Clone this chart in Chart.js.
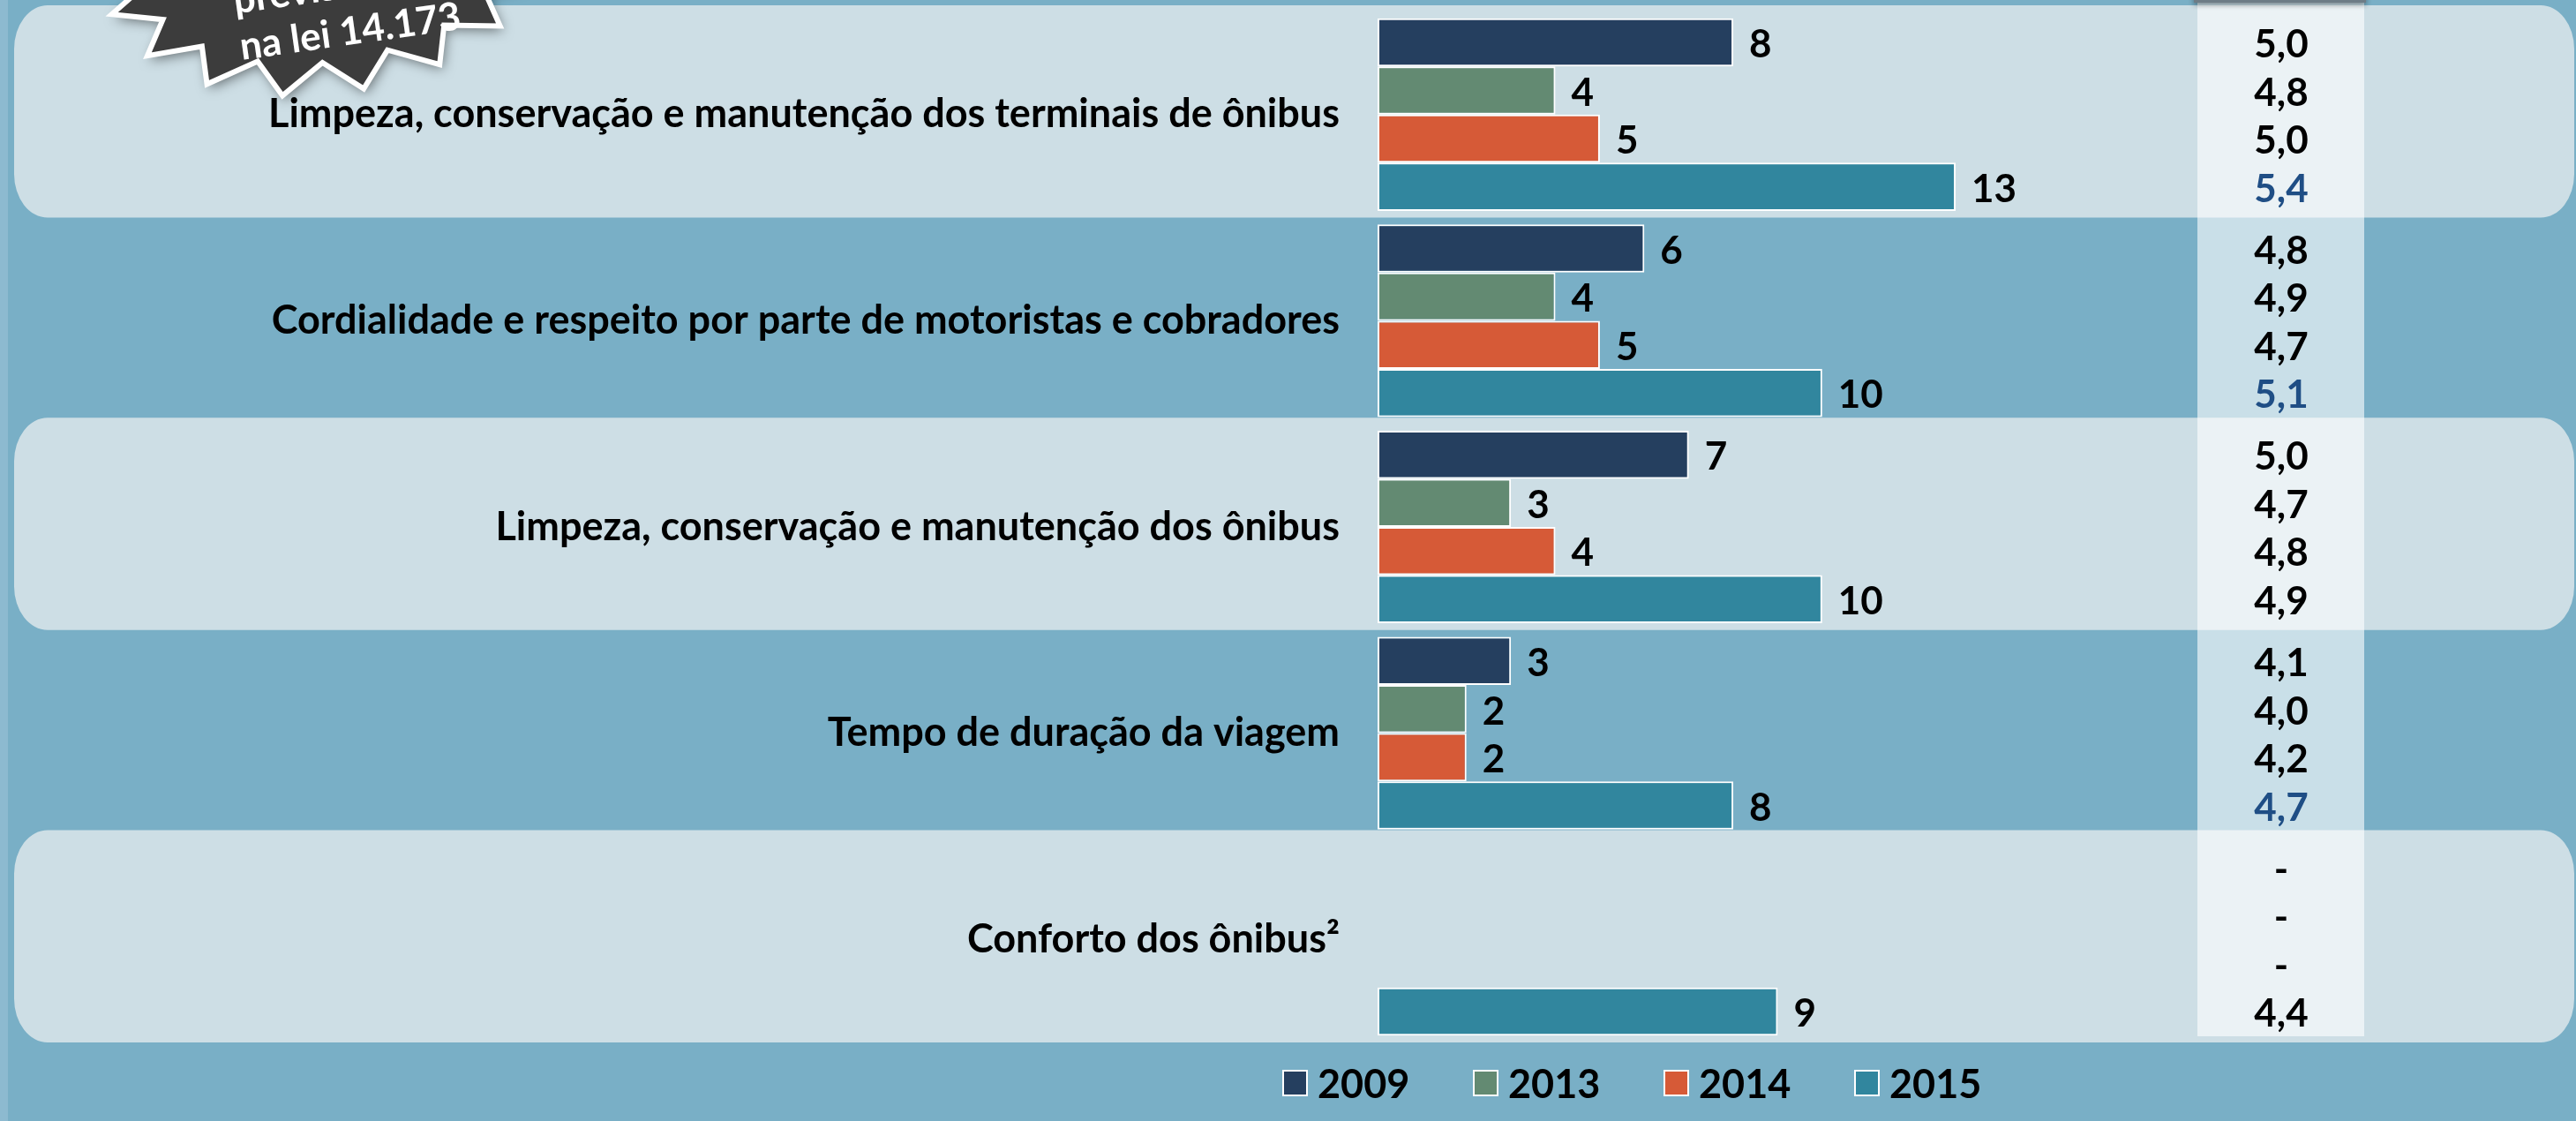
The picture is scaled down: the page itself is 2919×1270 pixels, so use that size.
<!DOCTYPE html>
<html><head><meta charset="utf-8">
<script src="https://cdn.jsdelivr.net/npm/chart.js@4/dist/chart.umd.min.js"></script>
<style>html,body{margin:0;padding:0;background:#79AFC6;overflow:hidden}canvas{display:block}</style>
</head><body>
<canvas id="c" width="2919" height="1270"></canvas>
<script>
const categories = [
  'Limpeza, conservação e manutenção dos terminais de ônibus',
  'Cordialidade e respeito por parte de motoristas e cobradores',
  'Limpeza, conservação e manutenção dos ônibus',
  'Tempo de duração da viagem',
  'Conforto dos ônibus²'
];
const seriesNames = ['2009', '2013', '2014', '2015'];
const values2009 = [8, 6, 7, 3, null];
const values2013 = [4, 4, 3, 2, null];
const values2014 = [5, 5, 4, 2, null];
const values2015 = [13, 10, 10, 8, 9];
const scores2009 = [5.0, 4.8, 5.0, 4.1, null];
const scores2013 = [4.8, 4.9, 4.7, 4.0, null];
const scores2014 = [5.0, 4.7, 4.8, 4.2, null];
const scores2015 = [5.4, 5.1, 4.9, 4.7, 4.4];
const highlight2015 = [true, true, false, true, false];
const badgeLines = ['previstos', 'na lei 14.173'];

const seriesColors = ['#253F5F', '#638A72', '#D65A37', '#31869E'];
const FONT = 'Lato, "Open Sans", sans-serif';
const allValues = [values2009, values2013, values2014, values2015];
const allScores = [scores2009, scores2013, scores2014, scores2015];
const CAT_PCT = 0.934;

function roundRect(ctx, x, y, w, h, r) {
  const ry = r * 1.3;
  ctx.beginPath();
  ctx.moveTo(x + r, y);
  ctx.lineTo(x + w - r, y);
  ctx.ellipse(x + w - r, y + ry, r, ry, 0, -Math.PI / 2, 0);
  ctx.lineTo(x + w, y + h - ry);
  ctx.ellipse(x + w - r, y + h - ry, r, ry, 0, 0, Math.PI / 2);
  ctx.lineTo(x + r, y + h);
  ctx.ellipse(x + r, y + h - ry, r, ry, 0, Math.PI / 2, Math.PI);
  ctx.lineTo(x, y + ry);
  ctx.ellipse(x + r, y + ry, r, ry, 0, Math.PI, Math.PI * 1.5);
  ctx.closePath();
}

function catGeom(chart, j) {
  const ys = chart.scales.y;
  const c = ys.getPixelForValue(j);
  const step = ys.getPixelForValue(1) - ys.getPixelForValue(0);
  return { c, step };
}

const backgroundPlugin = {
  id: 'bg',
  beforeDraw(chart) {
    const ctx = chart.ctx;
    const W = chart.width, H = chart.height;
    ctx.save();
    ctx.fillStyle = '#79AFC6';
    ctx.fillRect(0, 0, W, H);
    ctx.fillStyle = '#8DBAD0';
    ctx.fillRect(0, 0, 9, H);
    categories.forEach((_, j) => {
      if (j % 2 !== 0) return;
      const g = catGeom(chart, j);
      const top = g.c - 0.53 * g.step;
      const bot = g.c + 0.5 * g.step;
      ctx.fillStyle = '#CDDEE5';
      roundRect(ctx, 16, top, W - 16 - 2, bot - top, 38);
      ctx.fill();
    });
    const colL = 2490, colR = 2679;
    const g4 = catGeom(chart, categories.length - 1);
    ctx.fillStyle = 'rgba(255,255,255,0.6)';
    ctx.fillRect(colL, 0, colR - colL, g4.c + 0.47 * g4.step);
    ctx.shadowColor = 'rgba(0,0,0,0.45)';
    ctx.shadowBlur = 6;
    ctx.shadowOffsetY = 2;
    ctx.fillStyle = '#6D7C86';
    ctx.fillRect(colL - 4, -6, colR - colL + 6, 9);
    ctx.restore();
  }
};

const labelsPlugin = {
  id: 'labels',
  afterDatasetsDraw(chart) {
    const ctx = chart.ctx;
    ctx.save();
    ctx.font = 'bold 44px ' + FONT;
    ctx.textBaseline = 'middle';
    ctx.fillStyle = '#000';
    ctx.textAlign = 'left';
    chart.data.datasets.forEach((ds, i) => {
      const meta = chart.getDatasetMeta(i);
      meta.data.forEach((bar, j) => {
        const v = ds.data[j];
        if (v == null) return;
        ctx.fillText(String(v), bar.x + 18, bar.y + 3);
      });
    });
    ctx.textAlign = 'center';
    const colX = 2585;
    categories.forEach((_, j) => {
      const g = catGeom(chart, j);
      const thick = g.step * CAT_PCT / 4;
      allScores.forEach((arr, i) => {
        const y = g.c + (i - 1.5) * thick + 3;
        const s = arr[j];
        const txt = s == null ? '-' : s.toFixed(1).replace('.', ',');
        ctx.fillStyle = (i === 3 && highlight2015[j]) ? '#1F4E85' : '#000';
        ctx.fillText(txt, colX, y);
      });
    });
    ctx.restore();
  },
  afterDraw(chart) {
    const ctx = chart.ctx;
    ctx.save();
    ctx.font = 'bold 45px ' + FONT;
    ctx.textBaseline = 'middle';
    ctx.textAlign = 'left';
    const ly = 1227;
    seriesNames.forEach((name, i) => {
      const x = 1453 + i * 216;
      ctx.fillStyle = '#FFFFFF';
      ctx.fillRect(x, ly - 15, 29, 30);
      ctx.fillStyle = seriesColors[i];
      ctx.fillRect(x + 2, ly - 13, 25, 26);
      ctx.fillStyle = '#000';
      ctx.fillText(name, x + 40, ly + 2);
    });
    ctx.restore();
    // badge
    ctx.save();
    ctx.translate(368, -46);
    ctx.rotate(-0.14);
    ctx.beginPath();
    const n = 17;
    for (let k = 0; k < 2 * n; k++) {
      const a = k * Math.PI / n;
      const outer = k % 2 === 0;
      const rx = outer ? 252 : 205, ry = outer ? 152 : 116;
      const px = rx * Math.cos(a), py = ry * Math.sin(a);
      if (k === 0) ctx.moveTo(px, py); else ctx.lineTo(px, py);
    }
    ctx.closePath();
    ctx.shadowColor = 'rgba(0,0,0,0.5)';
    ctx.shadowBlur = 14;
    ctx.shadowOffsetX = 3;
    ctx.shadowOffsetY = 5;
    ctx.fillStyle = '#3C3C3C';
    ctx.fill();
    ctx.shadowColor = 'transparent';
    ctx.lineWidth = 6;
    ctx.strokeStyle = '#FFFFFF';
    ctx.stroke();
    ctx.restore();
    ctx.save();
    ctx.translate(274, 68);
    ctx.rotate(-0.14);
    ctx.fillStyle = '#FFFFFF';
    ctx.font = 'bold 44px ' + FONT;
    ctx.textAlign = 'left';
    ctx.textBaseline = 'alphabetic';
    ctx.fillText(badgeLines[1], 0, 0);
    ctx.fillText(badgeLines[0], 0, -53);
    ctx.restore();
  }
};

const datasets = seriesNames.map((name, i) => ({
  label: name,
  data: allValues[i],
  backgroundColor: seriesColors[i],
  borderColor: '#FFFFFF',
  borderWidth: 2,
  borderSkipped: false,
  categoryPercentage: CAT_PCT,
  barPercentage: 1.0
}));

new Chart(document.getElementById('c'), {
  type: 'bar',
  data: { labels: categories, datasets },
  options: {
    indexAxis: 'y',
    responsive: false,
    animation: false,
    devicePixelRatio: 1,
    layout: { padding: { top: 13, bottom: 89, left: 0, right: 48 } },
    plugins: { legend: { display: false }, tooltip: { enabled: false } },
    scales: {
      x: { display: false, min: 0, max: 26 },
      y: {
        grid: { display: false },
        border: { display: false },
        ticks: {
          autoSkip: false,
          color: '#000',
          padding: 35,
          font: { family: FONT, weight: 'bold', size: 45 }
        },
        afterFit(axis) {
          axis.width = 1561;
          axis.paddingTop = 0;
          axis.paddingBottom = 0;
        }
      }
    }
  },
  plugins: [backgroundPlugin, labelsPlugin]
});
</script>
</body></html>
